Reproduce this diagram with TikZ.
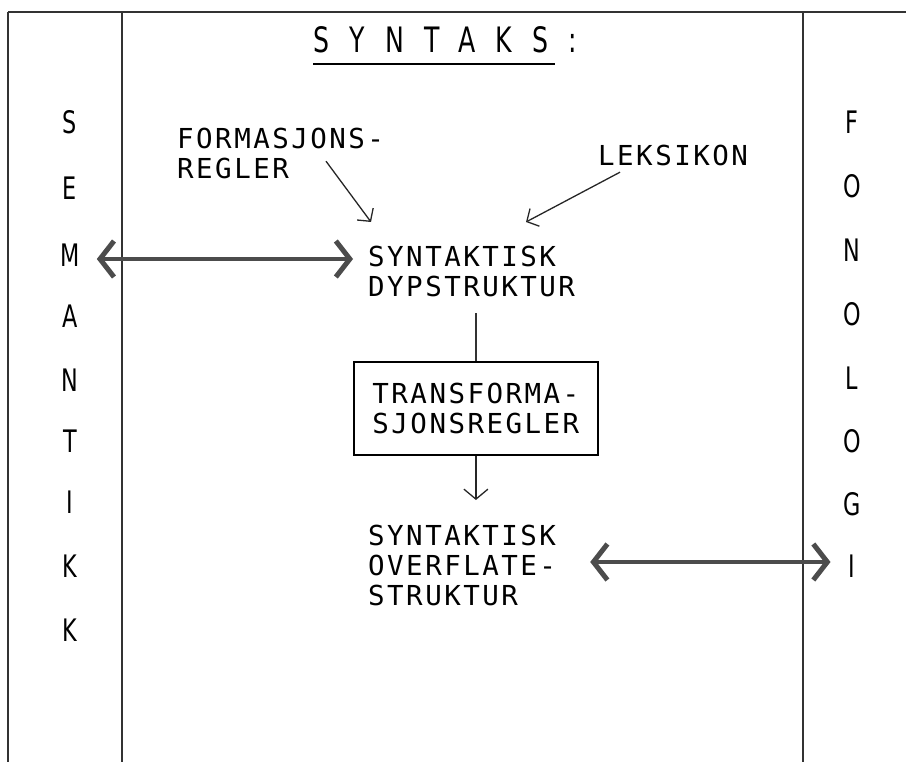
\documentclass[tikz,border=0pt]{standalone}
\usepackage{fontspec}
\usetikzlibrary{arrows.meta}
\newfontfamily\skrivfont[LetterSpace=9]{DejaVu Sans Mono}
\newfontfamily\sidefont[FakeStretch=0.72]{DejaVu Sans}
\newfontfamily\tittelfont[FakeStretch=0.72,LetterSpace=58]{DejaVu Sans}

\begin{document}
\begin{tikzpicture}[x=1pt, y=-1pt,
    tekst/.style={font=\skrivfont\fontsize{27.5}{30}\selectfont, align=left, inner sep=0pt, anchor=north west},
    bokstav/.style={font=\sidefont\fontsize{31}{32}\selectfont, inner sep=0pt},
    ramme/.style={line width=1.4pt, black!80},
    pil/.style={line width=1.3pt, black!85, -{Straight Barb[length=9pt,width=20pt]}},
    tykkpil/.style={line width=3.5pt, black!70, {Straight Barb[length=14pt,width=36pt,line width=5pt]}-{Straight Barb[length=14pt,width=36pt,line width=5pt]}}]
  \useasboundingbox (0,0) rectangle (906,762);
  % ramme
  \draw[ramme, line width=1.8pt] (8,12) -- (906,12);
  \draw[ramme] (8,12) -- (8,762);
  \draw[ramme] (122,12) -- (122,762);
  \draw[ramme] (803,12) -- (803,762);
  % overskrift
  \node[font=\tittelfont\fontsize{35}{36}\selectfont, inner sep=0pt, anchor=base west] (titel) at (313,53) {SYNTAKS:};
  \draw[line width=1.6pt] ([yshift=-11pt]titel.base west) -- ++(242,0);
  % sidekolonner
  \foreach \b/\y [count=\i] in {S/122,E/188,M/255,A/316,N/380,T/441,I/502,K/566,K/630}
    \node[bokstav] (sem\i) at (70,\y) {\b};
  \foreach \b/\y [count=\i] in {F/122,O/186,N/250,O/314,L/378,O/441,G/504,I/566}
    \node[bokstav] (fon\i) at (852,\y) {\b};
  % tekster
  \node[tekst] (formasjon) at (177,128) {FORMASJONS-\\REGLER};
  \node[tekst] (leksikon) at (598,145) {LEKSIKON};
  \node[tekst] (dyp) at (368,246) {SYNTAKTISK\\DYPSTRUKTUR};
  \node[tekst, draw, line width=1.8pt, inner xsep=17pt, inner ysep=21pt, minimum width=244pt] (regler) at (353,361) {TRANSFORMA-\\SJONSREGLER};
  \node[tekst] (overflate) at (368,525) {SYNTAKTISK\\OVERFLATE-\\STRUKTUR};
  % piler
  \draw[pil] ([xshift=149pt,yshift=18pt]formasjon.south west) -- ([xshift=3pt,yshift=24pt]dyp.north west);
  \draw[pil] ([xshift=22pt,yshift=-6pt]leksikon.south west) -- ([xshift=158pt,yshift=24pt]dyp.north west);
  \draw[ramme] ([yshift=-16pt]regler.north |- dyp.south) -- (regler.north);
  \draw[pil, -{Straight Barb[length=10pt,width=24pt]}] (regler.south) -- ([yshift=25pt]regler.south |- overflate.north);
  \coordinate (mpil) at ([yshift=-4pt]sem3.east);
  \draw[tykkpil] ([xshift=17pt]mpil) -- ([xshift=-15pt]mpil -| dyp.west);
  \coordinate (ipil) at ([yshift=4pt]fon8.west);
  \draw[tykkpil] ([xshift=34pt]ipil -| overflate.east) -- ([xshift=-18pt]ipil);
\end{tikzpicture}
\end{document}
